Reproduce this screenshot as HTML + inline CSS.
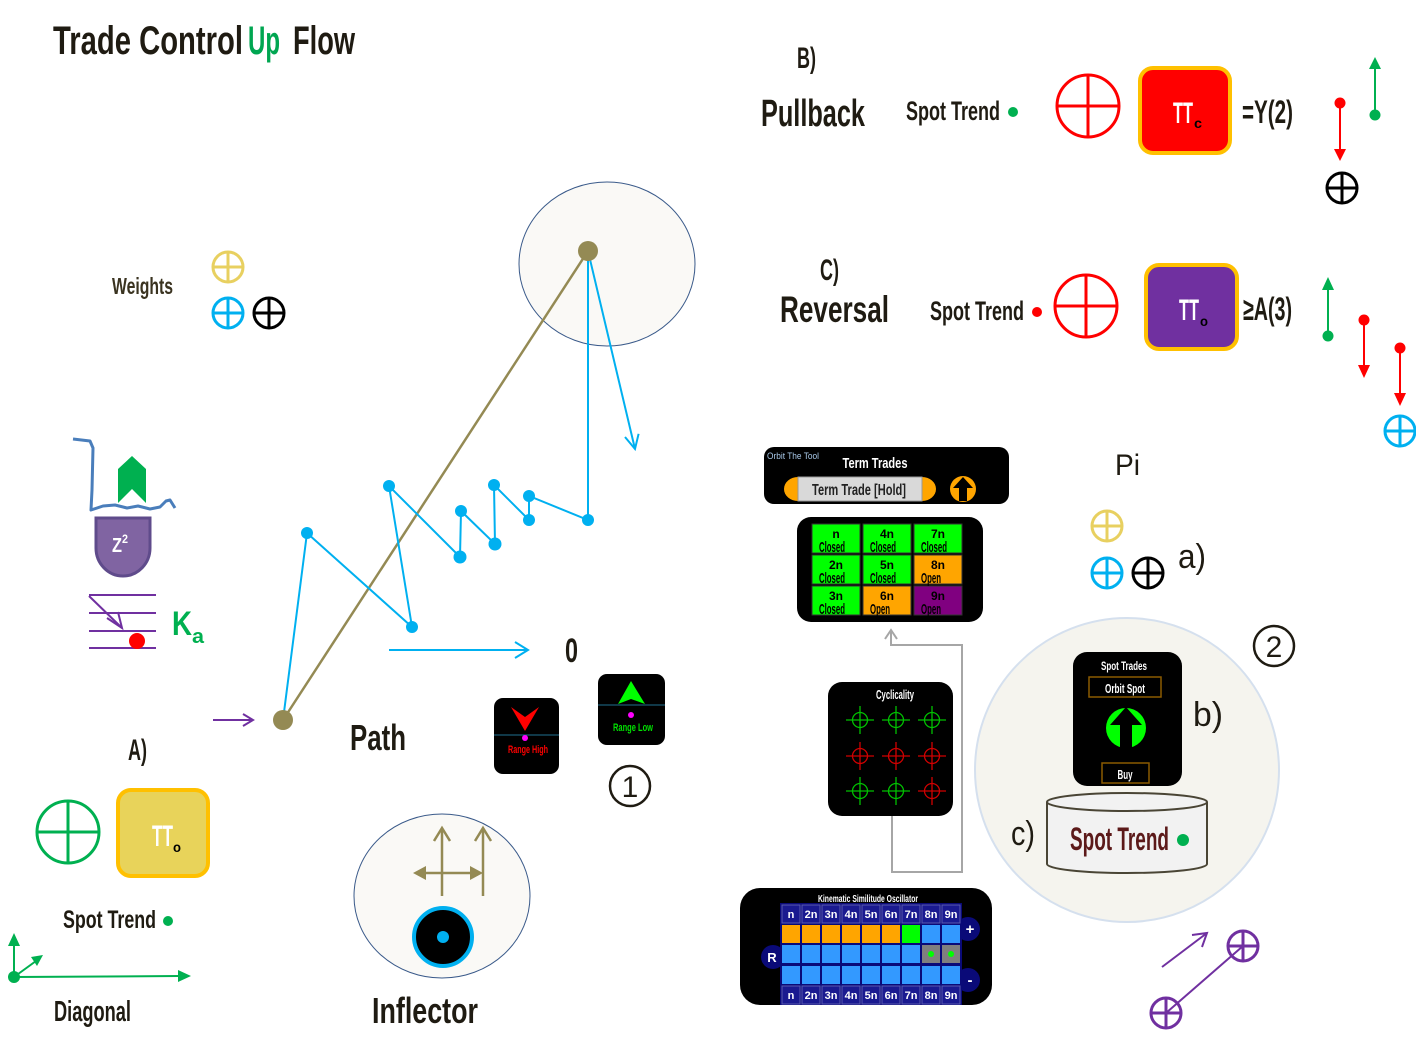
<!DOCTYPE html>
<html><head><meta charset="utf-8"><style>
html,body{margin:0;padding:0;background:#fff}
svg{display:block}
.c{font-family:"Liberation Sans Narrow","Liberation Sans","DejaVu Sans Condensed",sans-serif;font-weight:bold}
.r{font-family:"Liberation Sans","DejaVu Sans",sans-serif}
</style></head><body>
<svg width="1416" height="1040" viewBox="0 0 1416 1040" xmlns="http://www.w3.org/2000/svg">
<rect width="1416" height="1040" fill="#fff"/>

<!-- Title -->
<text class="c" x="53" y="54" font-size="40" textLength="190" lengthAdjust="spacingAndGlyphs" fill="#1f1b12">Trade Control</text>
<text class="c" x="248" y="54" font-size="40" textLength="32" lengthAdjust="spacingAndGlyphs" fill="#00a651">Up</text>
<text class="c" x="293" y="54" font-size="40" textLength="62" lengthAdjust="spacingAndGlyphs" fill="#1f1b12">Flow</text>

<!-- B) Pullback row -->
<text class="c" x="797" y="68" font-size="30" textLength="19" lengthAdjust="spacingAndGlyphs" fill="#1f1b12">B)</text>
<text class="c" x="761" y="126" font-size="38" textLength="104" lengthAdjust="spacingAndGlyphs" fill="#1f1b12">Pullback</text>
<text class="c" x="906" y="120" font-size="27" textLength="94" lengthAdjust="spacingAndGlyphs" fill="#1f1b12">Spot Trend</text>
<circle cx="1013" cy="112" r="5" fill="#00b050"/>
<g stroke="#ff0000" stroke-width="3" fill="none">
<circle cx="1088" cy="106" r="31"/><line x1="1057" y1="106" x2="1119" y2="106"/><line x1="1088" y1="75" x2="1088" y2="137"/>
</g>
<rect x="1140" y="68" width="90" height="85" rx="13" fill="#ff0000" stroke="#ffc000" stroke-width="4"/>
<text class="c" x="1173" y="123" font-size="30" textLength="20" lengthAdjust="spacingAndGlyphs" fill="#fff">TT</text>
<text class="c" x="1194" y="128" font-size="14" textLength="8" lengthAdjust="spacingAndGlyphs" fill="#000">c</text>
<text class="c" x="1242" y="123" font-size="32" textLength="51" lengthAdjust="spacingAndGlyphs" fill="#1f1b12">=Y(2)</text>
<line x1="1340" y1="103" x2="1340" y2="150" stroke="#ff0000" stroke-width="2"/>
<polygon points="1334,149 1346,149 1340,161" fill="#ff0000"/>
<circle cx="1340" cy="103" r="5.5" fill="#ff0000"/>
<line x1="1375" y1="115" x2="1375" y2="68" stroke="#00b050" stroke-width="2"/>
<polygon points="1369,69 1381,69 1375,57" fill="#00b050"/>
<circle cx="1375" cy="115" r="5.5" fill="#00b050"/>
<g stroke="#000" stroke-width="3" fill="none">
<circle cx="1342" cy="188" r="15"/><line x1="1327" y1="188" x2="1357" y2="188"/><line x1="1342" y1="173" x2="1342" y2="203"/>
</g>

<!-- C) Reversal row -->
<text class="c" x="820" y="280" font-size="30" textLength="19" lengthAdjust="spacingAndGlyphs" fill="#1f1b12">C)</text>
<text class="c" x="780" y="322" font-size="37" textLength="109" lengthAdjust="spacingAndGlyphs" fill="#1f1b12">Reversal</text>
<text class="c" x="930" y="320" font-size="27" textLength="94" lengthAdjust="spacingAndGlyphs" fill="#1f1b12">Spot Trend</text>
<circle cx="1037" cy="312" r="5" fill="#ff0000"/>
<g stroke="#ff0000" stroke-width="3" fill="none">
<circle cx="1086" cy="306" r="31"/><line x1="1055" y1="306" x2="1117" y2="306"/><line x1="1086" y1="275" x2="1086" y2="337"/>
</g>
<rect x="1146" y="265" width="91" height="84" rx="13" fill="#7030a0" stroke="#ffc000" stroke-width="4"/>
<text class="c" x="1179" y="320" font-size="30" textLength="20" lengthAdjust="spacingAndGlyphs" fill="#fff">TT</text>
<text class="c" x="1200" y="326" font-size="14" textLength="8" lengthAdjust="spacingAndGlyphs" fill="#000">o</text>
<text class="c" x="1243" y="320" font-size="32" textLength="49" lengthAdjust="spacingAndGlyphs" fill="#1f1b12">≥A(3)</text>
<line x1="1328" y1="336" x2="1328" y2="289" stroke="#00b050" stroke-width="2"/>
<polygon points="1322,290 1334,290 1328,277" fill="#00b050"/>
<circle cx="1328" cy="336" r="5.5" fill="#00b050"/>
<line x1="1364" y1="320" x2="1364" y2="366" stroke="#ff0000" stroke-width="2"/>
<polygon points="1358,365 1370,365 1364,378" fill="#ff0000"/>
<circle cx="1364" cy="320" r="5.5" fill="#ff0000"/>
<line x1="1400" y1="348" x2="1400" y2="394" stroke="#ff0000" stroke-width="2"/>
<polygon points="1394,393 1406,393 1400,406" fill="#ff0000"/>
<circle cx="1400" cy="348" r="5.5" fill="#ff0000"/>
<g stroke="#00b0f0" stroke-width="3" fill="none">
<circle cx="1400" cy="431" r="15"/><line x1="1385" y1="431" x2="1415" y2="431"/><line x1="1400" y1="416" x2="1400" y2="446"/>
</g>

<!-- Weights -->
<text class="c" x="112" y="294" font-size="23" textLength="61" lengthAdjust="spacingAndGlyphs" fill="#3a3320">Weights</text>
<g stroke="#e8d060" stroke-width="3" fill="none">
<circle cx="228" cy="267" r="15"/><line x1="213" y1="267" x2="243" y2="267"/><line x1="228" y1="252" x2="228" y2="282"/>
</g>
<g stroke="#00b0f0" stroke-width="3" fill="none">
<circle cx="228" cy="313" r="15"/><line x1="213" y1="313" x2="243" y2="313"/><line x1="228" y1="298" x2="228" y2="328"/>
</g>
<g stroke="#000" stroke-width="3" fill="none">
<circle cx="269" cy="313" r="15"/><line x1="254" y1="313" x2="284" y2="313"/><line x1="269" y1="298" x2="269" y2="328"/>
</g>

<!-- wavy + green arrow + shield -->
<polyline points="73,439 90,441 93,448 92,490 91,510 103,506 115,505 127,508 138,506 150,509 160,507 166,501 170,500 175,508" fill="none" stroke="#4a7ebb" stroke-width="3" stroke-linejoin="round"/>
<polygon points="132,456 146,469 146,503 132,489 118,503 118,469" fill="#00b050"/>
<path d="M96,518 H150 V548 A27,28 0 0 1 96,548 Z" fill="#8064a2" stroke="#5f4b8b" stroke-width="3"/>
<text class="c" x="112" y="552" font-size="20" textLength="10" lengthAdjust="spacingAndGlyphs" fill="#fff">Z</text>
<text class="c" x="122" y="543" font-size="12" textLength="6" lengthAdjust="spacingAndGlyphs" fill="#fff">2</text>

<!-- Ka -->
<g stroke="#7030a0" stroke-width="2">
<line x1="89" y1="595" x2="156" y2="595"/><line x1="89" y1="613" x2="156" y2="613"/>
<line x1="89" y1="631" x2="156" y2="631"/><line x1="89" y1="648" x2="156" y2="648"/>
<line x1="89" y1="596" x2="122" y2="628"/>
<polyline points="107,618 122,628 118,612" fill="none"/>
</g>
<circle cx="137" cy="641" r="8" fill="#ff0000"/>
<text class="c" x="172" y="635" font-size="34" textLength="20" lengthAdjust="spacingAndGlyphs" fill="#00b050">K</text>
<text class="c" x="192" y="643" font-size="20" textLength="12" lengthAdjust="spacingAndGlyphs" fill="#00b050">a</text>

<!-- A) -->
<text class="c" x="128" y="760" font-size="30" textLength="19" lengthAdjust="spacingAndGlyphs" fill="#1f1b12">A)</text>
<g stroke="#00b050" stroke-width="3" fill="none">
<circle cx="68" cy="832" r="31"/><line x1="37" y1="832" x2="99" y2="832"/><line x1="68" y1="801" x2="68" y2="863"/>
</g>
<rect x="118" y="790" width="90" height="86" rx="13" fill="#e8d35a" stroke="#ffc000" stroke-width="4"/>
<text class="c" x="152" y="846" font-size="30" textLength="21" lengthAdjust="spacingAndGlyphs" fill="#fff">TT</text>
<text class="c" x="173" y="852" font-size="14" textLength="8" lengthAdjust="spacingAndGlyphs" fill="#000">o</text>
<text class="c" x="63" y="928" font-size="25" textLength="93" lengthAdjust="spacingAndGlyphs" fill="#1f1b12">Spot Trend</text>
<circle cx="168" cy="921" r="5" fill="#00b050"/>
<g stroke="#00b050" stroke-width="2" fill="none">
<line x1="14" y1="977" x2="180" y2="976"/><line x1="14" y1="977" x2="14" y2="945"/><line x1="14" y1="977" x2="36" y2="961"/>
</g>
<polygon points="178,970 191,976 178,982" fill="#00b050"/>
<polygon points="8,946 14,933 20,946" fill="#00b050"/>
<polygon points="31,957 43,955 37,966" fill="#00b050"/>
<circle cx="14" cy="977" r="6" fill="#00b050"/>
<text class="c" x="54" y="1021" font-size="29" textLength="77" lengthAdjust="spacingAndGlyphs" fill="#1f1b12">Diagonal</text>

<!-- Path diagram -->
<ellipse cx="607" cy="264" rx="88" ry="82" fill="#faf9f6" stroke="#3a5a8a" stroke-width="1"/>
<line x1="213" y1="720" x2="253" y2="720" stroke="#7030a0" stroke-width="2"/>
<polyline points="243,714 253,720 243,726" fill="none" stroke="#7030a0" stroke-width="2"/>
<line x1="283" y1="720" x2="588" y2="251" stroke="#948a54" stroke-width="2.5"/>
<polyline points="283,720 307,533 412,627 389,486 460,557 461,511 495,544 494,485 529,520 529,496 588,520 588,251 635,449" fill="none" stroke="#00b0f0" stroke-width="2"/>
<polyline points="625,437 635,449 638.6,433.8" fill="none" stroke="#00b0f0" stroke-width="2"/>
<g fill="#00b0f0">
<circle cx="307" cy="533" r="6"/><circle cx="412" cy="627" r="6"/><circle cx="389" cy="486" r="6"/>
<circle cx="460" cy="557" r="6.5"/><circle cx="461" cy="511" r="6"/><circle cx="495" cy="544" r="6.5"/>
<circle cx="494" cy="485" r="6"/><circle cx="529" cy="520" r="6"/><circle cx="529" cy="496" r="6"/>
<circle cx="588" cy="520" r="6"/>
</g>
<circle cx="283" cy="720" r="10" fill="#948a54"/>
<circle cx="588" cy="251" r="10" fill="#948a54"/>
<line x1="389" y1="650" x2="528" y2="650" stroke="#00b0f0" stroke-width="2"/>
<polyline points="515,642 528,650 515,658" fill="none" stroke="#00b0f0" stroke-width="2"/>
<text class="c" x="565" y="662" font-size="34" textLength="13" lengthAdjust="spacingAndGlyphs" fill="#1f1b12">0</text>
<text class="c" x="350" y="750" font-size="36" textLength="56" lengthAdjust="spacingAndGlyphs" fill="#1f1b12">Path</text>

<!-- Range boxes -->
<rect x="494" y="698" width="65" height="76" rx="9" fill="#000"/>
<line x1="494" y1="735" x2="559" y2="735" stroke="#1f6f8f" stroke-width="1"/>
<polygon points="511,707 525,717 539,707 525,731" fill="#ff0000"/>
<circle cx="525" cy="738" r="3" fill="#ff00ff"/>
<text class="c" x="528" y="753" font-size="11" textLength="40" lengthAdjust="spacingAndGlyphs" text-anchor="middle" fill="#ff0000">Range High</text>
<rect x="598" y="674" width="67" height="71" rx="9" fill="#000"/>
<line x1="598" y1="705" x2="665" y2="705" stroke="#1f6f8f" stroke-width="1"/>
<polygon points="631,681 645,704 631,699 618,704" fill="#00ff00"/>
<circle cx="631" cy="715" r="3" fill="#ff00ff"/>
<text class="c" x="633" y="731" font-size="11" textLength="40" lengthAdjust="spacingAndGlyphs" text-anchor="middle" fill="#00e000">Range Low</text>
<circle cx="630" cy="786" r="20" fill="none" stroke="#1f1b12" stroke-width="2.5"/>
<text class="r" x="630" y="797" font-size="30" text-anchor="middle" fill="#1f1b12">1</text>

<!-- Inflector -->
<ellipse cx="442" cy="896" rx="88" ry="82" fill="#faf9f6" stroke="#3a5a8a" stroke-width="1"/>
<g stroke="#948a54" stroke-width="2.5" fill="none">
<line x1="442" y1="896" x2="442" y2="828"/><polyline points="434,841 442,828 450,841"/>
<line x1="483" y1="896" x2="483" y2="828"/><polyline points="475,841 483,828 491,841"/>
<line x1="420" y1="873" x2="476" y2="873"/>
</g>
<polygon points="413,873 426,866 426,880" fill="#948a54"/>
<polygon points="483,873 470,866 470,880" fill="#948a54"/>
<circle cx="443" cy="937" r="29" fill="#000" stroke="#00b0f0" stroke-width="4"/>
<circle cx="443" cy="937" r="6" fill="#00b0f0"/>
<text class="c" x="372" y="1023" font-size="36" textLength="106" lengthAdjust="spacingAndGlyphs" fill="#1f1b12">Inflector</text>

<!-- Term Trades panel -->
<rect x="764" y="447" width="245" height="57" rx="10" fill="#000"/>
<text class="r" x="767" y="459" font-size="9" textLength="52" lengthAdjust="spacingAndGlyphs" fill="#a8c8e8">Orbit The Tool</text>
<text class="c" x="875" y="468" font-size="15" textLength="65" lengthAdjust="spacingAndGlyphs" text-anchor="middle" fill="#fff">Term Trades</text>
<path d="M798,477 A14,12 0 0 0 798,501 Z" fill="#ffa500"/>
<path d="M922,477 A14,12 0 0 1 922,501 Z" fill="#ffa500"/>
<rect x="798" y="477" width="124" height="24" fill="#d9d9d9" stroke="#999" stroke-width="1"/>
<text class="c" x="859" y="495" font-size="16" textLength="94" lengthAdjust="spacingAndGlyphs" text-anchor="middle" fill="#222">Term Trade [Hold]</text>
<circle cx="963" cy="489" r="13" fill="#ffa500"/>
<polygon points="963,477 953,488 959,488 959,501 967,501 967,488 973,488" fill="#000"/>

<!-- Grid panel -->
<rect x="797" y="517" width="186" height="105" rx="14" fill="#000"/>
<g stroke="#333" stroke-width="1">
<rect x="812" y="524" width="48" height="29" fill="#00ff00"/>
<rect x="863" y="524" width="48" height="29" fill="#00ff00"/>
<rect x="914" y="524" width="48" height="29" fill="#00ff00"/>
<rect x="812" y="555" width="48" height="29" fill="#00ff00"/>
<rect x="863" y="555" width="48" height="29" fill="#00ff00"/>
<rect x="914" y="555" width="48" height="29" fill="#ffa500"/>
<rect x="812" y="586" width="48" height="29" fill="#00ff00"/>
<rect x="863" y="586" width="48" height="29" fill="#ffa500"/>
<rect x="914" y="586" width="48" height="29" fill="#800080"/>
</g>
<g class="c" fill="#000" font-size="12" text-anchor="middle">
<text x="836" y="538">n</text><text x="887" y="538">4n</text><text x="938" y="538">7n</text>
<text x="836" y="569">2n</text><text x="887" y="569">5n</text><text x="938" y="569">8n</text>
<text x="836" y="600">3n</text><text x="887" y="600">6n</text><text x="938" y="600">9n</text>
</g>
<g class="c" fill="#000" font-size="15">
<text x="819" y="552" textLength="26" lengthAdjust="spacingAndGlyphs">Closed</text>
<text x="870" y="552" textLength="26" lengthAdjust="spacingAndGlyphs">Closed</text>
<text x="921" y="552" textLength="26" lengthAdjust="spacingAndGlyphs">Closed</text>
<text x="819" y="583" textLength="26" lengthAdjust="spacingAndGlyphs">Closed</text>
<text x="870" y="583" textLength="26" lengthAdjust="spacingAndGlyphs">Closed</text>
<text x="921" y="583" textLength="20" lengthAdjust="spacingAndGlyphs">Open</text>
<text x="819" y="614" textLength="26" lengthAdjust="spacingAndGlyphs">Closed</text>
<text x="870" y="614" textLength="20" lengthAdjust="spacingAndGlyphs">Open</text>
<text x="921" y="614" textLength="20" lengthAdjust="spacingAndGlyphs">Open</text>
</g>

<!-- Connector -->
<path d="M891,632 V645 H962 V872 H892 V816" fill="none" stroke="#a6a6a6" stroke-width="2"/>
<polyline points="885,639 891,630 897,639" fill="none" stroke="#a6a6a6" stroke-width="2"/>

<!-- Cyclicality -->
<rect x="828" y="682" width="125" height="134" rx="14" fill="#000"/>
<text class="c" x="895" y="699" font-size="13" textLength="38" lengthAdjust="spacingAndGlyphs" text-anchor="middle" fill="#fff">Cyclicality</text>
<g fill="none" stroke-width="1.3">
<g stroke="#00c000"><circle cx="860" cy="720" r="7.5"/><path d="M846,720H874M860,706V734"/></g>
<g stroke="#00c000"><circle cx="896" cy="720" r="7.5"/><path d="M882,720H910M896,706V734"/></g>
<g stroke="#00c000"><circle cx="932" cy="720" r="7.5"/><path d="M918,720H946M932,706V734"/></g>
<g stroke="#d00000"><circle cx="860" cy="756" r="7.5"/><path d="M846,756H874M860,742V770"/></g>
<g stroke="#d00000"><circle cx="896" cy="756" r="7.5"/><path d="M882,756H910M896,742V770"/></g>
<g stroke="#d00000"><circle cx="932" cy="756" r="7.5"/><path d="M918,756H946M932,742V770"/></g>
<g stroke="#00c000"><circle cx="860" cy="791" r="7.5"/><path d="M846,791H874M860,777V805"/></g>
<g stroke="#00c000"><circle cx="896" cy="791" r="7.5"/><path d="M882,791H910M896,777V805"/></g>
<g stroke="#d00000"><circle cx="932" cy="791" r="7.5"/><path d="M918,791H946M932,777V805"/></g>
</g>

<!-- Kinematic -->
<rect x="740" y="888" width="252" height="117" rx="20" fill="#000"/>
<circle cx="773" cy="957" r="12" fill="#0a0a78"/>
<circle cx="968" cy="929" r="12" fill="#0a0a78"/>
<circle cx="968" cy="980" r="12" fill="#0a0a78"/>
<text class="c" x="868" y="902" font-size="10" textLength="100" lengthAdjust="spacingAndGlyphs" text-anchor="middle" fill="#fff">Kinematic Similitude Oscillator</text>
<rect x="780" y="903" width="182" height="102" fill="#0a0a78"/>
<g stroke="#5a5ab0" stroke-width="1" fill="#1a1a90">
<rect x="782" y="905" width="18" height="18"/><rect x="802" y="905" width="18" height="18"/><rect x="822" y="905" width="18" height="18"/>
<rect x="842" y="905" width="18" height="18"/><rect x="862" y="905" width="18" height="18"/><rect x="882" y="905" width="18" height="18"/>
<rect x="902" y="905" width="18" height="18"/><rect x="922" y="905" width="18" height="18"/><rect x="942" y="905" width="18" height="18"/>
<rect x="782" y="986" width="18" height="18"/><rect x="802" y="986" width="18" height="18"/><rect x="822" y="986" width="18" height="18"/>
<rect x="842" y="986" width="18" height="18"/><rect x="862" y="986" width="18" height="18"/><rect x="882" y="986" width="18" height="18"/>
<rect x="902" y="986" width="18" height="18"/><rect x="922" y="986" width="18" height="18"/><rect x="942" y="986" width="18" height="18"/>
</g>
<g fill="#ffa500">
<rect x="782" y="925" width="18" height="18"/><rect x="802" y="925" width="18" height="18"/><rect x="822" y="925" width="18" height="18"/>
<rect x="842" y="925" width="18" height="18"/><rect x="862" y="925" width="18" height="18"/><rect x="882" y="925" width="18" height="18"/>
</g>
<rect x="902" y="925" width="18" height="18" fill="#00ff00"/>
<g fill="#3399ff">
<rect x="922" y="925" width="18" height="18"/><rect x="942" y="925" width="18" height="18"/>
<rect x="782" y="945" width="18" height="18"/><rect x="802" y="945" width="18" height="18"/><rect x="822" y="945" width="18" height="18"/>
<rect x="842" y="945" width="18" height="18"/><rect x="862" y="945" width="18" height="18"/><rect x="882" y="945" width="18" height="18"/>
<rect x="902" y="945" width="18" height="18"/>
<rect x="782" y="966" width="18" height="18"/><rect x="802" y="966" width="18" height="18"/><rect x="822" y="966" width="18" height="18"/>
<rect x="842" y="966" width="18" height="18"/><rect x="862" y="966" width="18" height="18"/><rect x="882" y="966" width="18" height="18"/>
<rect x="902" y="966" width="18" height="18"/><rect x="922" y="966" width="18" height="18"/><rect x="942" y="966" width="18" height="18"/>
</g>
<rect x="922" y="945" width="18" height="18" fill="#7f7f7f"/><rect x="942" y="945" width="18" height="18" fill="#7f7f7f"/>
<circle cx="931" cy="954" r="3" fill="#00ff00"/><circle cx="951" cy="954" r="3" fill="#00ff00"/>
<g class="c" fill="#fff" font-size="11" text-anchor="middle">
<text x="791" y="918">n</text><text x="811" y="918">2n</text><text x="831" y="918">3n</text><text x="851" y="918">4n</text><text x="871" y="918">5n</text>
<text x="891" y="918">6n</text><text x="911" y="918">7n</text><text x="931" y="918">8n</text><text x="951" y="918">9n</text>
<text x="791" y="999">n</text><text x="811" y="999">2n</text><text x="831" y="999">3n</text><text x="851" y="999">4n</text><text x="871" y="999">5n</text>
<text x="891" y="999">6n</text><text x="911" y="999">7n</text><text x="931" y="999">8n</text><text x="951" y="999">9n</text>
<text x="772" y="962" font-size="13">R</text>
<text x="970" y="934" font-size="15">+</text>
<text x="970" y="985" font-size="15">-</text>
</g>

<!-- Pi section -->
<text class="r" x="1115" y="475" font-size="30" textLength="25" lengthAdjust="spacingAndGlyphs" fill="#1f1b12">Pi</text>
<g stroke="#e8d060" stroke-width="3" fill="none">
<circle cx="1107" cy="526" r="15"/><line x1="1092" y1="526" x2="1122" y2="526"/><line x1="1107" y1="511" x2="1107" y2="541"/>
</g>
<g stroke="#00b0f0" stroke-width="3" fill="none">
<circle cx="1107" cy="573" r="15"/><line x1="1092" y1="573" x2="1122" y2="573"/><line x1="1107" y1="558" x2="1107" y2="588"/>
</g>
<g stroke="#000" stroke-width="3" fill="none">
<circle cx="1148" cy="573" r="15"/><line x1="1133" y1="573" x2="1163" y2="573"/><line x1="1148" y1="558" x2="1148" y2="588"/>
</g>
<text class="r" x="1178" y="568" font-size="34" textLength="28" lengthAdjust="spacingAndGlyphs" fill="#1f1b12">a)</text>

<circle cx="1127" cy="770" r="152" fill="#f5f4ee" stroke="#d5e0ee" stroke-width="2"/>
<circle cx="1274" cy="646" r="20" fill="none" stroke="#1f1b12" stroke-width="2.5"/>
<text class="r" x="1274" y="657" font-size="30" text-anchor="middle" fill="#1f1b12">2</text>

<!-- Spot Trades -->
<rect x="1073" y="652" width="109" height="134" rx="14" fill="#000"/>
<text class="c" x="1124" y="670" font-size="12" textLength="46" lengthAdjust="spacingAndGlyphs" text-anchor="middle" fill="#fff">Spot Trades</text>
<rect x="1089" y="677" width="72" height="20" fill="none" stroke="#8b5a00" stroke-width="1.5"/>
<text class="c" x="1125" y="693" font-size="13" textLength="40" lengthAdjust="spacingAndGlyphs" text-anchor="middle" fill="#fff">Orbit Spot</text>
<circle cx="1126" cy="728" r="20" fill="#00ff00"/>
<polygon points="1126,707 1110,725 1120,725 1120,750 1132,750 1132,725 1142,725" fill="#000"/>
<rect x="1102" y="763" width="47" height="20" fill="none" stroke="#8b5a00" stroke-width="1.5"/>
<text class="c" x="1125" y="779" font-size="13" textLength="15" lengthAdjust="spacingAndGlyphs" text-anchor="middle" fill="#fff">Buy</text>
<text class="r" x="1193" y="726" font-size="34" textLength="30" lengthAdjust="spacingAndGlyphs" fill="#1f1b12">b)</text>

<!-- Cylinder -->
<path d="M1047,802 V864 A80,9 0 0 0 1207,864 V802" fill="#f2f2f2" stroke="#4a4535" stroke-width="2"/>
<ellipse cx="1127" cy="802" rx="80" ry="9" fill="#f2f2f2" stroke="#4a4535" stroke-width="2"/>
<text class="c" x="1070" y="850" font-size="32" textLength="99" lengthAdjust="spacingAndGlyphs" fill="#5c1a1a">Spot Trend</text>
<circle cx="1183" cy="840" r="6" fill="#00b050"/>
<text class="r" x="1011" y="845" font-size="34" textLength="24" lengthAdjust="spacingAndGlyphs" fill="#1f1b12">c)</text>

<!-- purple bottom right -->
<line x1="1162" y1="967" x2="1207" y2="933" stroke="#7030a0" stroke-width="2"/>
<polyline points="1192,935 1207,933 1202,947" fill="none" stroke="#7030a0" stroke-width="2"/>
<line x1="1166" y1="1013" x2="1243" y2="946" stroke="#7030a0" stroke-width="2"/>
<g stroke="#7030a0" stroke-width="3" fill="none">
<circle cx="1243" cy="946" r="15"/><line x1="1228" y1="946" x2="1258" y2="946"/><line x1="1243" y1="931" x2="1243" y2="961"/>
<circle cx="1166" cy="1013" r="15"/><line x1="1151" y1="1013" x2="1181" y2="1013"/><line x1="1166" y1="998" x2="1166" y2="1028"/>
</g>
</svg>
</body></html>
